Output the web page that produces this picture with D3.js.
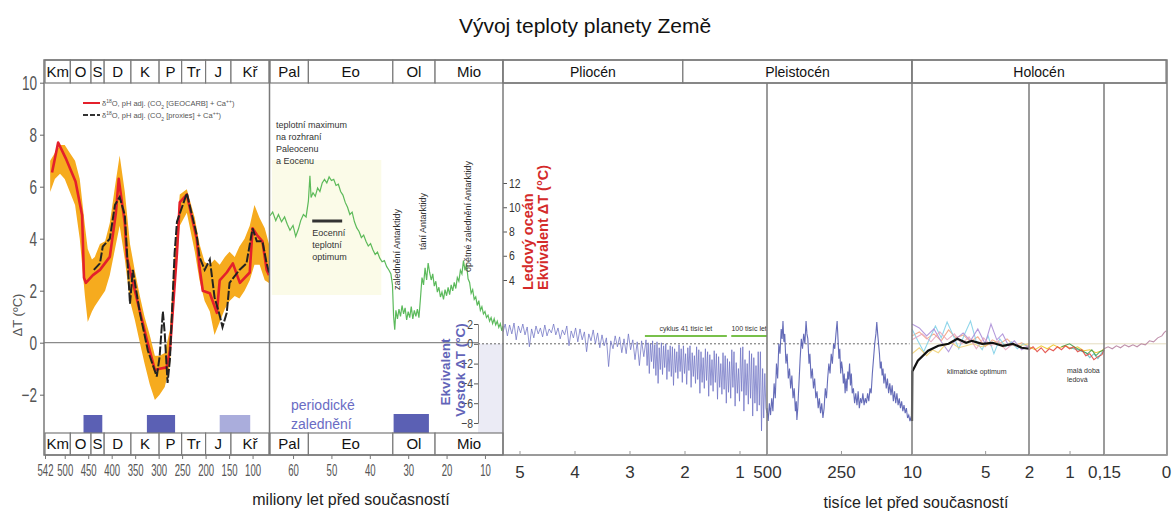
<!DOCTYPE html>
<html>
<head>
<meta charset="utf-8">
<script src="https://cdnjs.cloudflare.com/ajax/libs/d3/7.8.5/d3.min.js"></script>
<style>
  body { margin: 0; background: #fff; }
  svg { display: block; }
  text { font-family: "Liberation Sans", Arial, sans-serif; }
</style>
</head>
<body>
<div id="chart"></div>
<script>
// ---------- data ----------
// geologic periods (millions of years ago)
var periodsPal = [["Km", 542, 488], ["O", 488, 444], ["S", 444, 416], ["D", 416, 359], ["K", 359, 299],
                  ["P", 299, 251], ["Tr", 251, 200], ["J", 200, 146], ["Kř", 146, 65]];
var periodsCen = [["Pal", 66, 56], ["Eo", 56, 34], ["Ol", 34, 23], ["Mio", 23, 5.3]];
// right part, thousands of years ago
var periodsRec = [["Pliocén", 5300, 2030], ["Pleistocén", 2030, 10], ["Holocén", 10, 0]];

var ticksPal = [542, 500, 450, 400, 350, 300, 250, 200, 150, 100];
var ticksCen = [60, 50, 40, 30, 20, 10];
var ticksRec = [5000, 4000, 3000, 2000, 1000, 500, 250, 10, 5, 2, 1, 0.15, 0];
var tickLabelsRec = ["5", "4", "3", "2", "1", "500", "250", "10", "5", "2", "1", "0,15", "0"];
var ticksLeftY = [-2, 0, 2, 4, 6, 8, 10];
var ticksRed = [4, 6, 8, 10, 12];
var ticksVostok = [-8, -6, -4, -2, 0, 2];

// glaciation periods [from, to, dark]
var glacPal = [[460, 420, true], [325, 265, true], [170, 105, false]];
var glacCen = [[33.8, 24.6, true]];

// Phanerozoic: uncertainty band [Ma, low, high]
var bandPal = [[531, 5.8, 7.0], [521, 6.3, 7.3], [510, 6.5, 7.6], [500, 6.3, 7.6], [489, 5.8, 7.3], [478, 5.3, 7.0],
  [468, 4.0, 6.3], [457, 1.8, 4.5], [451, 0.8, 3.6], [442, 1.2, 3.2], [436, 1.4, 3.3], [425, 1.7, 3.8],
  [414, 2.0, 3.9], [404, 2.6, 4.6], [393, 3.6, 6.0], [383, 4.5, 7.2], [372, 3.2, 5.8], [361, 1.6, 3.8],
  [351, 0.9, 2.8], [340, 0.0, 1.8], [330, -0.8, 1.0], [319, -1.6, 0.3], [308, -2.2, -0.5], [298, -2.0, -0.5],
  [287, -1.7, -0.4], [276, -0.9, 0.5], [266, 2.0, 3.5], [255, 4.5, 5.7], [240, 5.0, 5.9], [223, 3.5, 4.8],
  [213, 2.4, 3.8], [202, 1.6, 3.1], [191, 1.2, 3.0], [181, 0.3, 3.2], [170, 0.8, 3.0], [159, 1.3, 3.3],
  [149, 1.6, 3.5], [138, 1.8, 3.3], [128, 1.7, 3.7], [117, 2.0, 4.0], [106, 2.4, 4.5], [96, 3.0, 5.3],
  [85, 3.0, 4.8], [74, 2.4, 4.4], [65, 2.3, 3.8]];

// GEOCARB series [Ma, dT]
var geocarb = [[527, 6.55], [514, 7.7], [498, 7.1], [477, 6.2], [463, 4.9], [459, 2.5], [455, 2.3], [440, 2.6],
  [425, 2.8], [404, 3.3], [391, 5.0], [385, 6.3], [372, 4.6], [368, 3.3], [346, 1.65], [325, 0.1], [308, -1.05],
  [298, -1.0], [283, -0.95], [276, -0.3], [261, 3.45], [255, 5.4], [240, 5.7], [219, 4.0], [213, 2.9], [206, 2.0],
  [191, 1.9], [176, 1.15], [170, 2.4], [155, 2.7], [142, 3.05], [127, 2.3], [106, 2.7], [100, 4.4], [91, 4.15],
  [79, 3.9], [70, 2.8], [65, 2.6]];

// proxies series [Ma, dT]
var proxies = [[438, 2.8], [425, 3.05], [419, 3.7], [404, 4.0], [393, 5.3], [383, 5.6], [372, 4.9], [366, 3.05],
  [361, 1.5], [355, 2.8], [340, 1.15], [323, -0.3], [304, -1.3], [298, -0.55], [291, 1.2], [287, 0.35],
  [281, -1.55], [276, -0.65], [266, 3.45], [261, 4.65], [240, 5.75], [219, 4.15], [213, 3.3], [202, 2.8],
  [191, 3.2], [181, 1.75], [170, 1.05], [164, 0.6], [155, 1.15], [149, 2.3], [128, 2.8], [113, 3.05],
  [100, 4.4], [91, 3.9], [79, 3.9], [70, 3.05], [65, 2.7]];

// Cenozoic deep ocean [Ma, dT on deep-ocean axis]
var deepOcean = [[66, 9.3], [65.3, 9.6], [64.5, 8.9], [63.8, 9.4], [63, 8.8], [62.2, 9.2], [61.5, 8.6], [60.8, 8.1],
  [60, 8.5], [59.3, 7.6], [58.6, 8.2], [58, 8.9], [57.3, 9.4], [56.6, 9.2], [56, 10.5], [55.6, 12.6], [55.3, 10.8],
  [54.8, 11.2], [54.2, 10.9], [53.6, 11.6], [53, 11.3], [52.4, 12.0], [51.8, 12.3], [51.2, 12.0], [50.6, 12.5],
  [50, 12.2], [49.4, 12.3], [48.8, 11.8], [48.2, 11.9], [47.6, 11.3], [47, 11.0], [46.4, 10.4], [45.8, 10.0],
  [45.2, 9.4], [44.6, 9.6], [44, 8.8], [43.4, 8.3], [42.8, 8.0], [42.2, 7.5], [41.6, 7.7], [41, 7.2], [40.4, 6.8],
  [39.8, 7.0], [39.2, 6.5], [38.6, 6.1], [38, 6.3], [37.4, 5.8], [36.8, 5.5], [36.2, 5.6], [35.6, 5.1], [35, 4.8],
  [34.5, 4.5], [34.1, 3.6], [33.8, 1.0], [33.5, -0.1], [33.2, 1.5], [32.8, 0.8], [32.4, 1.6], [32, 1.0],
  [31.6, 1.9], [31.2, 1.2], [30.8, 1.7], [30.4, 0.7], [30, 1.4], [29.6, 0.9], [29.2, 1.8], [28.8, 0.8],
  [28.4, 1.5], [28, 1.0], [27.6, 1.6], [27.2, 0.9], [26.8, 2.5], [26.4, 4.2], [26, 3.6], [25.6, 5.0], [25.2, 4.0],
  [24.8, 5.4], [24.4, 4.6], [24, 4.0], [23.6, 4.5], [23.2, 3.5], [22.8, 3.9], [22.4, 3.0], [22, 3.4], [21.6, 2.6],
  [21.2, 3.0], [20.8, 2.4], [20.4, 3.2], [20, 2.7], [19.6, 3.4], [19.2, 2.8], [18.8, 3.6], [18.4, 3.1], [18, 3.8],
  [17.6, 3.3], [17.2, 4.2], [16.8, 3.9], [16.4, 4.8], [16, 4.5], [15.6, 5.6], [15.2, 4.8], [14.8, 5.3],
  [14.4, 4.1], [14, 3.8], [13.6, 2.9], [13.2, 3.2], [12.8, 2.4], [12.4, 2.6], [12, 1.9], [11.6, 2.3], [11.2, 1.5],
  [10.8, 1.8], [10.4, 1.2], [10, 1.4], [9.6, 0.9], [9.2, 1.1], [8.8, 0.6], [8.4, 0.9], [8, 0.4], [7.6, 0.8],
  [7.2, 0.3], [6.8, 0.6], [6.4, 0.1], [6, 0.4], [5.6, -0.2], [5.3, 0.2]];

// Plio-Pleistocene [Ma, Vostok equivalent dT]
var plioPleist = [[5.30, 1.2], [5.26, 2.0], [5.22, 0.8], [5.18, 1.9], [5.14, 1.0], [5.10, 2.1], [5.06, 0.4],
  [5.02, 1.8], [4.98, 1.1], [4.94, 2.0], [4.90, 0.9], [4.86, 1.7], [4.82, -0.3], [4.78, 1.5], [4.74, 0.6],
  [4.70, 1.8], [4.66, 1.0], [4.62, 1.6], [4.58, 0.7], [4.54, 1.9], [4.50, 0.8], [4.46, 1.5], [4.42, 1.1],
  [4.38, 2.0], [4.34, 0.9], [4.30, 1.6], [4.26, 0.5], [4.22, 1.4], [4.18, 0.9], [4.14, 1.8], [4.10, -0.2],
  [4.06, 1.3], [4.02, 0.6], [3.98, 1.6], [3.94, 0.2], [3.90, 1.5], [3.86, 0.4], [3.82, 1.2], [3.78, -0.8],
  [3.74, 1.0], [3.70, 0.3], [3.66, 1.4], [3.62, 0.0], [3.58, 1.1], [3.54, -0.4], [3.50, 0.9], [3.46, -0.2],
  [3.42, 0.6], [3.38, -2.3], [3.34, 0.3], [3.30, -0.5], [3.26, 0.8], [3.22, -0.3], [3.18, 0.7], [3.14, -0.9],
  [3.10, 0.5], [3.06, -1.0], [3.02, 1.0], [2.98, -0.6], [2.94, 0.4], [2.90, -1.6], [2.86, 0.2], [2.82, -2.2],
  [2.78, 0.3], [2.74, -1.3], [2.70, 0.4], [2.68, -2.2], [2.66, 0.1], [2.64, -3.0], [2.62, 0.0], [2.60, -1.8],
  [2.58, 0.3], [2.56, -2.5], [2.54, -0.1], [2.52, -3.2], [2.50, 0.2], [2.48, -4.0], [2.46, -0.4], [2.44, -2.6],
  [2.42, 0.1], [2.40, -3.1], [2.38, -0.2], [2.36, -2.4], [2.34, 0.0], [2.32, -3.6], [2.30, -0.6], [2.28, -2.8],
  [2.26, -0.2], [2.24, -3.3], [2.22, -0.3], [2.20, -4.2], [2.18, -0.5], [2.16, -2.9], [2.14, -0.8], [2.12, -3.5],
  [2.10, -0.1], [2.08, -2.8], [2.06, -0.5], [2.04, -3.9], [2.02, -0.2], [2.00, -3.0], [1.98, -1.0], [1.96, -4.1],
  [1.94, -0.4], [1.92, -2.7], [1.90, -0.2], [1.88, -4.4], [1.86, -0.9], [1.84, -3.3], [1.82, -1.2], [1.80, -4.0],
  [1.78, -0.3], [1.76, -3.6], [1.74, -0.6], [1.72, -5.0], [1.70, -0.8], [1.68, -3.9], [1.66, -1.4], [1.64, -4.5],
  [1.62, -0.5], [1.60, -3.7], [1.58, -0.8], [1.56, -5.3], [1.54, -1.1], [1.52, -4.2], [1.50, -1.6], [1.48, -4.8],
  [1.46, -0.7], [1.44, -3.9], [1.42, -1.0], [1.40, -5.6], [1.38, -1.3], [1.36, -4.4], [1.34, -2.0], [1.32, -5.1],
  [1.30, -0.9], [1.28, -4.6], [1.26, -1.2], [1.24, -6.0], [1.22, -1.5], [1.20, -4.9], [1.18, -1.8], [1.16, -5.5],
  [1.14, -0.6], [1.12, -4.4], [1.10, -0.8], [1.08, -6.3], [1.06, -1.9], [1.04, -5.0], [1.02, -2.5], [1.00, -5.8],
  [0.98, -0.4], [0.96, -4.8], [0.94, -0.3], [0.92, -6.8], [0.90, -1.6], [0.88, -5.2], [0.86, -2.0], [0.84, -6.1],
  [0.82, -0.7], [0.80, -5.5], [0.78, -1.0], [0.76, -7.3], [0.74, -1.4], [0.72, -6.0], [0.70, -2.2], [0.68, -6.8],
  [0.66, -0.8], [0.64, -6.2], [0.62, -0.8], [0.60, -8.8], [0.58, -2.5], [0.56, -7.5], [0.54, -3.0], [0.52, -6.5],
  [0.50, -7.0]];

// Vostok ice core [kyr, dT]
var vostok = [[500, -6.5], [496, -7.8], [492, -6.0], [488, -7.2], [484, -5.5], [480, -6.8], [476, -4.0], [472, -5.5],
  [468, -2.0], [464, -3.5], [460, 0.0], [456, -1.0], [452, 1.5], [449, 0.5], [446, 2.3], [443, 0.2], [440, 1.0],
  [436, -2.0], [432, -1.0], [428, -3.5], [424, -2.5], [420, -4.5], [416, -3.2], [412, -5.5], [408, -4.5],
  [404, -6.8], [401, -5.8], [399, -7.7], [396, -6.5], [392, -4.0], [388, -1.5], [384, 0.5], [380, -0.5],
  [376, 1.0], [372, 0.0], [368, 2.3], [365, 1.0], [362, 0.5], [358, -2.0], [355, -1.0], [351, -3.5], [347, -2.5],
  [343, -4.5], [339, -3.5], [335, -5.5], [331, -4.8], [327, -6.5], [323, -5.5], [319, -7.0], [315, -6.0],
  [311, -7.5], [307, -6.5], [303, -4.5], [299, -5.5], [295, -3.5], [291, -2.0], [287, -3.0], [283, -1.0],
  [279, -2.0], [275, 0.0], [271, -0.5], [267, 1.0], [263, 2.3], [260, 0.5], [257, -1.5], [254, -0.5], [251, -3.0],
  [248, -1.8], [245, -2.5], [242, -4.0], [239, -3.0], [236, -5.0], [233, -3.5], [230, -4.8], [227, -2.8],
  [224, -3.6], [221, -2.0], [218, -4.2], [215, -3.0], [212, -5.0], [208, -4.5], [204, -6.0], [200, -5.0],
  [196, -6.2], [192, -4.8], [188, -6.5], [184, -5.5], [180, -6.0], [176, -5.0], [172, -6.2], [168, -5.5],
  [164, -6.0], [160, -5.0], [156, -5.8], [152, -4.5], [148, -5.0], [144, -3.0], [140, -1.5], [136, 0.0],
  [132, 1.0], [129, 2.2], [126, 1.0], [123, 0.0], [120, -1.0], [117, -2.5], [114, -1.8], [111, -3.2], [108, -2.5],
  [105, -4.0], [101, -3.0], [97, -4.5], [93, -3.5], [89, -5.0], [85, -4.0], [81, -5.2], [77, -4.2], [73, -5.8],
  [69, -4.8], [65, -6.0], [61, -5.0], [57, -6.2], [53, -5.5], [49, -6.5], [45, -5.8], [41, -6.8], [37, -6.2],
  [33, -7.0], [29, -6.5], [25, -7.5], [21, -7.2], [17, -7.8], [13, -7.4], [10, -7.8]];

// Holocene mean [kyr, dT]
var holoceneMean = [[10, -7.8], [9.98, -2.8], [9.6, -1.7], [8.9, -0.7], [8.2, -0.2], [7.5, 0.0], [6.9, 0.5],
  [6.3, 0.1], [5.9, 0.3], [5.2, 0.0], [4.5, 0.1], [3.8, -0.2], [3.1, 0.0], [2.5, -0.4], [2.0, -0.5]];

// Holocene proxy reconstructions [kyr, dT]
var holoProxyA = [[10, 0.8], [9.5, 1.2], [9, 0.5], [8.5, 1.0], [8, 0.3], [7.5, 1.4], [7, 0.6], [6.5, 0.9], [6, 0.2],
  [5.5, 0.7], [5, -0.3], [4.5, 0.4], [4, 0.0], [3.5, 0.5], [3, -0.2], [2.5, 0.1], [2, -0.3]];
var holoProxyB = [[10, 1.5], [9.6, 0.3], [9.2, -0.8], [8.8, 0.5], [8.4, 1.8], [8.0, 0.6], [7.6, 2.2], [7.2, 0.9],
  [6.8, -0.5], [6.4, 1.0], [6.0, 2.3], [5.6, 0.2], [5.2, -0.6], [4.8, 0.8], [4.4, -1.0], [4.0, 0.5], [3.6, -0.3],
  [3.2, 0.2], [2.8, -0.5], [2.4, 0.0], [2.0, -0.4]];
var holoProxyC = [[10, 2.0], [9.5, 1.6], [9, 0.8], [8.5, 1.5], [8, 0.2], [7.5, -0.8], [7, 0.5], [6.5, 1.1], [6, 0.3],
  [5.5, 1.5], [5, 0.0], [4.6, 2.0], [4.2, 0.4], [3.8, 1.0], [3.4, -0.2], [3.0, 0.3], [2.5, -0.6], [2.0, -0.2]];
var holoProxyD = [[10, -1.0], [9.5, -0.4], [9.0, -1.2], [8.6, -0.6], [8.2, -0.9], [7.8, -0.2], [7.3, 0.1],
  [6.8, -0.4], [6.3, -0.2], [5.8, 0.0], [5.3, -0.3], [4.8, -0.1], [4.3, 0.2], [3.8, -0.3], [3.3, 0.0], [2.8, -0.2],
  [2.3, -0.1], [2.0, 0.0]];
var holoProxyE = [[10, 0.4], [9.3, 1.0], [8.7, 0.2], [8.1, 1.2], [7.6, 0.4], [7.1, 1.0], [6.6, 0.0], [6.1, 0.7],
  [5.6, -0.5], [5.1, 0.6], [4.6, -0.2], [4.1, 0.3], [3.6, -0.6], [3.1, 0.0], [2.6, -0.4], [2.0, -0.3]];
var lateRed = [[2.0, -0.6], [1.9, -0.3], [1.8, -0.8], [1.7, -0.4], [1.6, -0.9], [1.5, -0.5], [1.4, -0.7], [1.3, -0.3],
  [1.2, -0.6], [1.1, -0.2], [1.0, -0.5], [0.9, -0.3], [0.8, -0.8], [0.7, -0.6], [0.6, -1.2], [0.5, -1.0],
  [0.4, -1.6], [0.3, -1.3], [0.2, -1.1], [0.15, -0.6]];
var lateYellow = [[2.0, -0.3], [1.85, -0.6], [1.7, -0.2], [1.55, -0.5], [1.4, -0.1], [1.25, -0.4], [1.1, -0.2],
  [0.95, -0.5], [0.8, -0.3], [0.65, -0.7], [0.5, -0.6], [0.35, -0.9], [0.2, -0.7], [0.15, -0.5]];
var lateGreen = [[1.2, -0.3], [1.0, 0.0], [0.85, -0.4], [0.7, -0.7], [0.55, -1.0], [0.45, -0.6], [0.35, -1.2],
  [0.25, -0.8], [0.15, -0.6]];
var lateCyan = [[1.0, -0.4], [0.8, -0.6], [0.6, -0.9], [0.5, -1.4], [0.4, -1.0], [0.3, -1.5], [0.2, -0.9], [0.15, -0.7]];
var instrumental = [[0.15, -0.5], [0.14, -0.3], [0.13, -0.5], [0.12, -0.2], [0.11, -0.4], [0.10, -0.1], [0.09, -0.3],
  [0.08, -0.1], [0.07, -0.3], [0.06, 0.0], [0.05, -0.1], [0.04, 0.3], [0.03, 0.2], [0.02, 0.6], [0.01, 0.8],
  [0.005, 1.1], [0, 1.3]];

// ---------- layout ----------
var W = 1173, H = 513;
var top0 = 60, top1 = 83, bot1 = 433, bot0 = 455;
var frameColor = "#7a7a7a";

var svg = d3.select("#chart").append("svg").attr("width", W).attr("height", H);

// scales
var xPal = d3.scaleLinear().domain([542, 65]).range([45, 269]);
var xCen = d3.scaleLinear().domain([66, 5.3]).range([270, 503]);
var xRec = d3.scaleLinear().domain([5300, 500, 10, 2, 0.15, 0]).range([503, 767, 912, 1029, 1104, 1166]);
var yLeft = d3.scaleLinear().domain([-2, 10]).range([394.7, 82.7]);
var yRed = d3.scaleLinear().domain([4, 12]).range([280, 183]);
var yVos = d3.scaleLinear().domain([-8, 2]).range([423, 324]);

// title
svg.append("text").attr("x", 585).attr("y", 33).attr("text-anchor", "middle")
  .style("font-size", "21px").attr("fill", "#111").text("Vývoj teploty planety Země");

// backgrounds
svg.append("rect").attr("x", xCen(65.5)).attr("y", 160).attr("width", xCen(37) - xCen(65.5)).attr("height", 135)
  .attr("fill", "#fbfbe8");
svg.append("rect").attr("x", 478).attr("y", yVos(0)).attr("width", 503 - 478).attr("height", bot1 - yVos(0))
  .attr("fill", "#ebebf5");

// glaciation boxes
var glacDark = "#5b60b4", glacLight = "#aaaddc";
svg.selectAll(".glacPal").data(glacPal).enter().append("rect")
  .attr("x", d => xPal(d[0])).attr("width", d => xPal(d[1]) - xPal(d[0]))
  .attr("y", 415).attr("height", bot1 - 415).attr("fill", d => d[2] ? glacDark : glacLight);
svg.selectAll(".glacCen").data(glacCen).enter().append("rect")
  .attr("x", d => xCen(d[0])).attr("width", d => xCen(d[1]) - xCen(d[0]))
  .attr("y", 414).attr("height", bot1 - 414).attr("fill", glacDark);

// zero lines
svg.append("line").attr("x1", 44).attr("x2", 478).attr("y1", yLeft(0)).attr("y2", yLeft(0))
  .attr("stroke", "#8a8a8a").attr("stroke-width", 1.2);
svg.append("line").attr("x1", 478).attr("x2", 767).attr("y1", yVos(0)).attr("y2", yVos(0))
  .attr("stroke", "#666").attr("stroke-dasharray", "2,2");
svg.append("line").attr("x1", xRec(480)).attr("x2", xRec(18)).attr("y1", yVos(0)).attr("y2", yVos(0))
  .attr("stroke", "#666").attr("stroke-dasharray", "2,2");
svg.append("line").attr("x1", 912).attr("x2", 1166).attr("y1", yVos(0)).attr("y2", yVos(0))
  .attr("stroke", "#e4dcc0").attr("stroke-width", 1);

// ---------- Phanerozoic panel ----------
var area = d3.area().x(d => xPal(d[0])).y0(d => yLeft(d[1])).y1(d => yLeft(d[2]));
svg.append("path").datum(bandPal).attr("d", area).attr("fill", "#f6ab1e");

var linePal = d3.line().x(d => xPal(d[0])).y(d => yLeft(d[1]));
svg.append("path").datum(geocarb).attr("d", linePal).attr("fill", "none")
  .attr("stroke", "#e4202b").attr("stroke-width", 2.6).attr("stroke-linejoin", "round");
svg.append("path").datum(proxies).attr("d", linePal).attr("fill", "none")
  .attr("stroke", "#222").attr("stroke-width", 2).attr("stroke-dasharray", "9,2");

// legend
var leg = svg.append("g").style("font-size", "7.5px").attr("fill", "#555");
leg.append("line").attr("x1", 83).attr("x2", 100).attr("y1", 103).attr("y2", 103).attr("stroke", "#e4202b").attr("stroke-width", 2);
leg.append("line").attr("x1", 83).attr("x2", 100).attr("y1", 115).attr("y2", 115).attr("stroke", "#333")
  .attr("stroke-width", 2).attr("stroke-dasharray", "5,2");
function legendText(y, inner) {
  var t = leg.append("text").attr("x", 102).attr("y", y);
  t.append("tspan").text("δ");
  t.append("tspan").attr("baseline-shift", "super").style("font-size", "5px").text("18");
  t.append("tspan").text("O, pH adj. (CO");
  t.append("tspan").attr("baseline-shift", "sub").style("font-size", "5px").text("2");
  t.append("tspan").text(" [" + inner + "] + Ca");
  t.append("tspan").attr("baseline-shift", "super").style("font-size", "5px").text("++");
  t.append("tspan").text(")");
}
legendText(106, "GEOCARB");
legendText(118, "proxies");

// ---------- Cenozoic panel ----------
var lineCen = d3.line().x(d => xCen(d[0])).y(d => yRed(d[1]));
svg.append("path").datum(deepOcean).attr("d", lineCen).attr("fill", "none")
  .attr("stroke", "#3fae3f").attr("stroke-width", 1.2).attr("stroke-opacity", 0.85);

// annotations
var ann = svg.append("g").attr("fill", "#333").style("font-size", "9px");
["teplotní maximum", "na rozhraní", "Paleocenu", "a Eocenu"].forEach((s, i) => {
  ann.append("text").attr("x", 276).attr("y", 128 + i * 12).text(s);
});
svg.append("line").attr("x1", xCen(55)).attr("x2", xCen(47.2)).attr("y1", 221).attr("y2", 221)
  .attr("stroke", "#333").attr("stroke-width", 3);
["Eocenní", "teplotní", "optimum"].forEach((s, i) => {
  ann.append("text").attr("x", xCen(55)).attr("y", 236 + i * 12).text(s);
});
function vText(x, y, s) {
  ann.append("text").attr("transform", "translate(" + x + "," + y + ") rotate(-90)").text(s);
}
vText(xCen(33.2) + 4, 290, "zalednění Antarktidy");
vText(xCen(26.3) + 4, 250, "tání Antarktidy");
vText(xCen(14.8) + 4, 272, "opětné zalednění Antarktidy");

svg.append("text").attr("x", 291).attr("y", 410).attr("fill", "#6a6cc4").style("font-size", "14px").text("periodické");
svg.append("text").attr("x", 291).attr("y", 429).attr("fill", "#6a6cc4").style("font-size", "14px").text("zalednění");

// condensed look for the narrow numeric labels
function narrow(sel, k) {
  sel.each(function () {
    var t = d3.select(this);
    var x = +t.attr("x") || 0;
    t.attr("x", x / k).attr("transform", "scale(" + k + ",1)");
  });
}

// red axis (deep ocean)
var redAxis = svg.append("g").attr("transform", "translate(503,0)")
  .call(d3.axisRight(yRed).tickValues(ticksRed).tickSize(4).tickPadding(2));
redAxis.select(".domain").remove();
redAxis.selectAll("text").style("font-size", "13px").attr("fill", "#333").call(narrow, 0.8);
redAxis.selectAll("line").attr("stroke", "#555");
svg.append("text").attr("transform", "translate(533,290) rotate(-90)").attr("fill", "#d42a2a")
  .style("font-size", "14.5px").style("font-weight", "bold").text("Ledový oceán");
svg.append("text").attr("transform", "translate(548,290) rotate(-90)").attr("fill", "#d42a2a")
  .style("font-size", "14.5px").style("font-weight", "bold").text("Ekvivalent ΔT (°C)");

// Vostok axis
var vosAxis = svg.append("g").attr("transform", "translate(478,0)")
  .call(d3.axisLeft(yVos).tickValues(ticksVostok).tickSize(4).tickPadding(1));
vosAxis.select(".domain").attr("stroke", "#888");
vosAxis.selectAll("text").style("font-size", "13px").attr("fill", "#444").call(narrow, 0.8);
vosAxis.selectAll("line").attr("stroke", "#555");
svg.append("text").attr("transform", "translate(450,372) rotate(-90)").attr("text-anchor", "middle")
  .attr("fill", "#6264b8").style("font-size", "13.5px").style("font-weight", "bold").text("Ekvivalent");
svg.append("text").attr("transform", "translate(465,370) rotate(-90)").attr("text-anchor", "middle")
  .attr("fill", "#6264b8").style("font-size", "13.5px").style("font-weight", "bold").text("Vostok ΔT (°C)");

// ---------- Plio-Pleistocene and Holocene ----------
var lineRec = d3.line().x(d => xRec(d[0])).y(d => yVos(d[1]));
svg.append("path").datum(plioPleist.map(d => [d[0] * 1000, d[1]])).attr("d", lineRec).attr("fill", "none")
  .attr("stroke", "#7074c4").attr("stroke-width", 0.9).attr("stroke-opacity", 0.85);
svg.append("path").datum(vostok).attr("d", lineRec).attr("fill", "none")
  .attr("stroke", "#4a52ac").attr("stroke-width", 1.1).attr("stroke-opacity", 0.85);

// cycle bars
var cyc = [[2720, 1230, "cyklus 41 tisíc let"], [1150, 500, "100 tisíc let"]];
svg.selectAll(".cyc").data(cyc).enter().append("line")
  .attr("x1", d => xRec(d[0])).attr("x2", d => xRec(d[1])).attr("y1", 336).attr("y2", 336)
  .attr("stroke", "#78c04a").attr("stroke-width", 2);
svg.selectAll(".cycT").data(cyc).enter().append("text")
  .attr("x", d => (xRec(d[0]) + xRec(d[1])) / 2).attr("y", 331).attr("text-anchor", "middle")
  .style("font-size", "7px").attr("fill", "#333").text(d => d[2]);

// Holocene proxies
var holo = [[holoProxyA, "#f2a07a"], [holoProxyB, "#7ccfe6"], [holoProxyC, "#a88ad6"], [holoProxyD, "#f0d070"],
  [holoProxyE, "#e6a2bd"], [lateYellow, "#efc21c"], [lateCyan, "#58bcc6"], [lateGreen, "#3c9c4a"],
  [lateRed, "#e0413a"], [instrumental, "#b47d9c"]];
holo.forEach(h => {
  svg.append("path").datum(h[0]).attr("d", lineRec).attr("fill", "none")
    .attr("stroke", h[1]).attr("stroke-width", 1.1).attr("stroke-opacity", 0.85);
});
svg.append("path").datum(holoceneMean).attr("d", lineRec).attr("fill", "none")
  .attr("stroke", "#111").attr("stroke-width", 2.2);

svg.append("text").attr("x", 947).attr("y", 374).style("font-size", "7px").attr("fill", "#333").text("klimatické optimum");
svg.append("text").attr("x", 1067).attr("y", 373).style("font-size", "7px").attr("fill", "#333").text("malá doba");
svg.append("text").attr("x", 1067).attr("y", 382).style("font-size", "7px").attr("fill", "#333").text("ledová");

// ---------- frames and period rows ----------
function periodRow(data, scale, y0, y1, fs) {
  var g = svg.append("g");
  g.selectAll("rect").data(data).enter().append("rect")
    .attr("x", d => scale(d[1])).attr("y", y0).attr("width", d => scale(d[2]) - scale(d[1])).attr("height", y1 - y0)
    .attr("fill", "#fff").attr("stroke", frameColor).attr("stroke-width", 1.2);
  g.selectAll("text").data(data).enter().append("text")
    .attr("x", d => (scale(d[1]) + scale(d[2])) / 2).attr("y", (y0 + y1) / 2 + fs * 0.36)
    .attr("text-anchor", "middle").style("font-size", fs + "px").attr("fill", "#111").text(d => d[0]);
}
periodRow(periodsPal, xPal, top0, top1, 15);
periodRow(periodsPal, xPal, bot1, bot0, 15);
periodRow(periodsCen, xCen, top0, top1, 15);
periodRow(periodsCen, xCen, bot1, bot0, 15);
periodRow(periodsRec, xRec, top0, top1, 14);

var frame = svg.append("g").attr("stroke", frameColor).attr("stroke-width", 1.5);
frame.append("rect").attr("x", 44).attr("y", top0).attr("width", 1167 - 44).attr("height", bot0 - top0).attr("fill", "none");
[269.5, 503].forEach(x => frame.append("line").attr("x1", x).attr("x2", x).attr("y1", top0).attr("y2", bot0));
[500, 10, 2, 0.15].forEach(k => frame.append("line").attr("x1", xRec(k)).attr("x2", xRec(k))
  .attr("y1", k === 10 ? top0 : top1).attr("y2", bot0));
frame.append("line").attr("x1", 503).attr("x2", 1167).attr("y1", top1).attr("y2", top1);

// ---------- axes ----------
var yAx = svg.append("g").attr("transform", "translate(44,0)")
  .call(d3.axisLeft(yLeft).tickValues(ticksLeftY).tickSize(4).tickPadding(3));
yAx.select(".domain").remove();
yAx.selectAll("text").style("font-size", "20px").attr("fill", "#555").call(narrow, 0.68);
yAx.selectAll("line").attr("stroke", "#666");
svg.append("text").attr("transform", "translate(22,315) rotate(-90)").attr("text-anchor", "middle")
  .style("font-size", "13px").attr("fill", "#555").text("ΔT (ºC)");

var xAxPal = svg.append("g").attr("transform", "translate(0," + bot0 + ")")
  .call(d3.axisBottom(xPal).tickValues(ticksPal).tickSize(4).tickPadding(5));
var xAxCen = svg.append("g").attr("transform", "translate(0," + bot0 + ")")
  .call(d3.axisBottom(xCen).tickValues(ticksCen).tickSize(4).tickPadding(5));
[xAxPal, xAxCen].forEach(a => {
  a.select(".domain").remove();
  a.selectAll("text").style("font-size", "16.5px").attr("fill", "#555").call(narrow, 0.58);
  a.selectAll("line").attr("stroke", "#777");
});
var xAxRec = svg.append("g").attr("transform", "translate(0," + bot0 + ")")
  .call(d3.axisBottom(xRec).tickValues(ticksRec).tickSize(-4).tickPadding(11)
    .tickFormat((d, i) => tickLabelsRec[i]));
xAxRec.select(".domain").remove();
xAxRec.selectAll("text").style("font-size", "17px").attr("fill", "#333");
xAxRec.selectAll("line").attr("stroke", "#999");

svg.append("text").attr("x", 351).attr("y", 505).attr("text-anchor", "middle")
  .style("font-size", "16px").attr("fill", "#222").text("miliony let před současností");
svg.append("text").attr("x", 916).attr("y", 508).attr("text-anchor", "middle")
  .style("font-size", "16px").attr("fill", "#222").text("tisíce let před současností");
</script>
</body>
</html>
